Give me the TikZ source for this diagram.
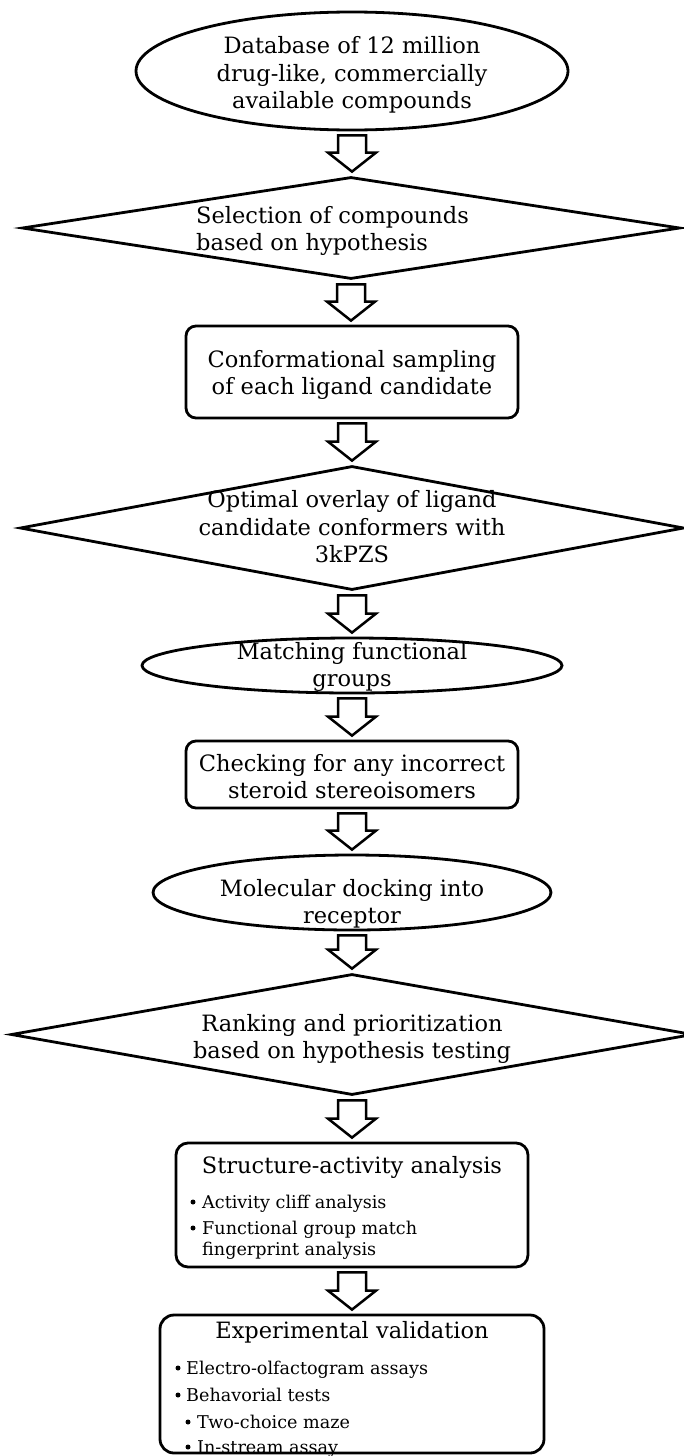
\documentclass[tikz,border=0pt]{standalone}
\usepackage{fontspec}
\setmainfont{DejaVu Serif}
\usetikzlibrary{shapes.geometric,calc}

\tikzset{
  shapeline/.style={draw=black, line width=2.8pt},
  oval/.style={shapeline, ellipse, inner sep=0pt},
  decision/.style={shapeline, diamond, inner sep=0pt},
  stepbox/.style={shapeline, rectangle, rounded corners=10pt, inner sep=0pt},
  label text/.style={inner sep=0pt, font=\fontsize{22.5}{27.5}\selectfont, align=center},
  item text/.style={inner sep=0pt, anchor=base west, font=\fontsize{17.6}{21}\selectfont},
  flow/.style={draw=black, line width=2.5pt, fill=white, line join=miter},
}

% hollow block arrow from the bottom of one step to the top of the next
\newcommand{\flowarrow}[2]{%
  \draw[flow] let \p1=(#1.south), \p2=(#2.north) in
    (\x1-14pt,\y1-4pt) -- (\x1+14pt,\y1-4pt) -- (\x1+14pt,\y2+23pt) --
    (\x1+24pt,\y2+23pt) -- (\x1,\y2+4pt) -- (\x1-24pt,\y2+23pt) --
    (\x1-14pt,\y2+23pt) -- cycle;}

\begin{document}
\begin{tikzpicture}[x=1pt, y=-1pt]
\useasboundingbox (0,0) rectangle (683,1456);

% step outlines
\node[oval, minimum width=432pt, minimum height=118pt] (e1) at (352,71) {};
\node[decision, minimum width=658pt, minimum height=102pt] (d1) at (351,228) {};
\node[stepbox, minimum width=332pt, minimum height=92pt] (b1) at (352,372) {};
\node[decision, minimum width=664pt, minimum height=124pt] (d2) at (352,528) {};
\node[oval, minimum width=420pt, minimum height=55pt] (e2) at (352,665.5) {};
\node[stepbox, minimum width=332pt, minimum height=67pt] (b2) at (352,774.5) {};
\node[oval, minimum width=398pt, minimum height=75pt] (e3) at (352,892.5) {};
\node[decision, minimum width=682pt, minimum height=121pt] (d3) at (352,1034.5) {};
\node[stepbox, rounded corners=12pt, minimum width=352pt, minimum height=124pt] (b3) at (352,1205) {};
\node[stepbox, rounded corners=14pt, minimum width=384pt, minimum height=138pt] (b4) at (352,1384) {};

% labels
\node[label text] (t1) at (352,75) {Database of 12 million\\drug-like, commercially\\available compounds};
\node[label text, align=left, anchor=west] (t2) at (196,231) {Selection of compounds\\based on hypothesis};
\node[label text] (t3) at (352,375) {Conformational sampling\\of each ligand candidate};
\node[label text] (t4) at (352,527) {Optimal overlay of ligand\\candidate conformers with\\3kPZS};
\node[label text] (t5) at (352,667) {Matching functional\\groups};
\node[label text] (t6) at (352,776.5) {Checking for any incorrect\\steroid stereoisomers};
\node[label text] (t7) at (352,904) {Molecular docking into\\receptor};
\node[label text] (t8) at (352,1039) {Ranking and prioritization\\based on hypothesis testing};
\node[label text, anchor=base] (t9) at (352,1173) {Structure-activity analysis};
\node[label text, anchor=base] (t10) at (352,1338) {Experimental validation};

% bulleted items
\node[item text] (i1) at (202,1208) {Activity cliff analysis};
\node[item text] (i2) at (202,1234) {Functional group match};
\node[item text] (i3) at (202,1255) {fingerprint analysis};
\node[item text] (i4) at (186,1374) {Electro-olfactogram assays};
\node[item text] (i5) at (186,1401) {Behavorial tests};
\node[item text] (i6) at (197,1428) {Two-choice maze};
\node[item text] (i7) at (197,1453) {In-stream assay};
\foreach \bx/\by in {193/1202, 193/1228, 178/1368, 178/1395, 188/1422, 188/1447}
  \fill (\bx,\by) circle (2.5pt);

% flow arrows
\flowarrow{e1}{d1}
\flowarrow{d1}{b1}
\flowarrow{b1}{d2}
\flowarrow{d2}{e2}
\flowarrow{e2}{b2}
\flowarrow{b2}{e3}
\flowarrow{e3}{d3}
\flowarrow{d3}{b3}
\flowarrow{b3}{b4}
\end{tikzpicture}
\end{document}
